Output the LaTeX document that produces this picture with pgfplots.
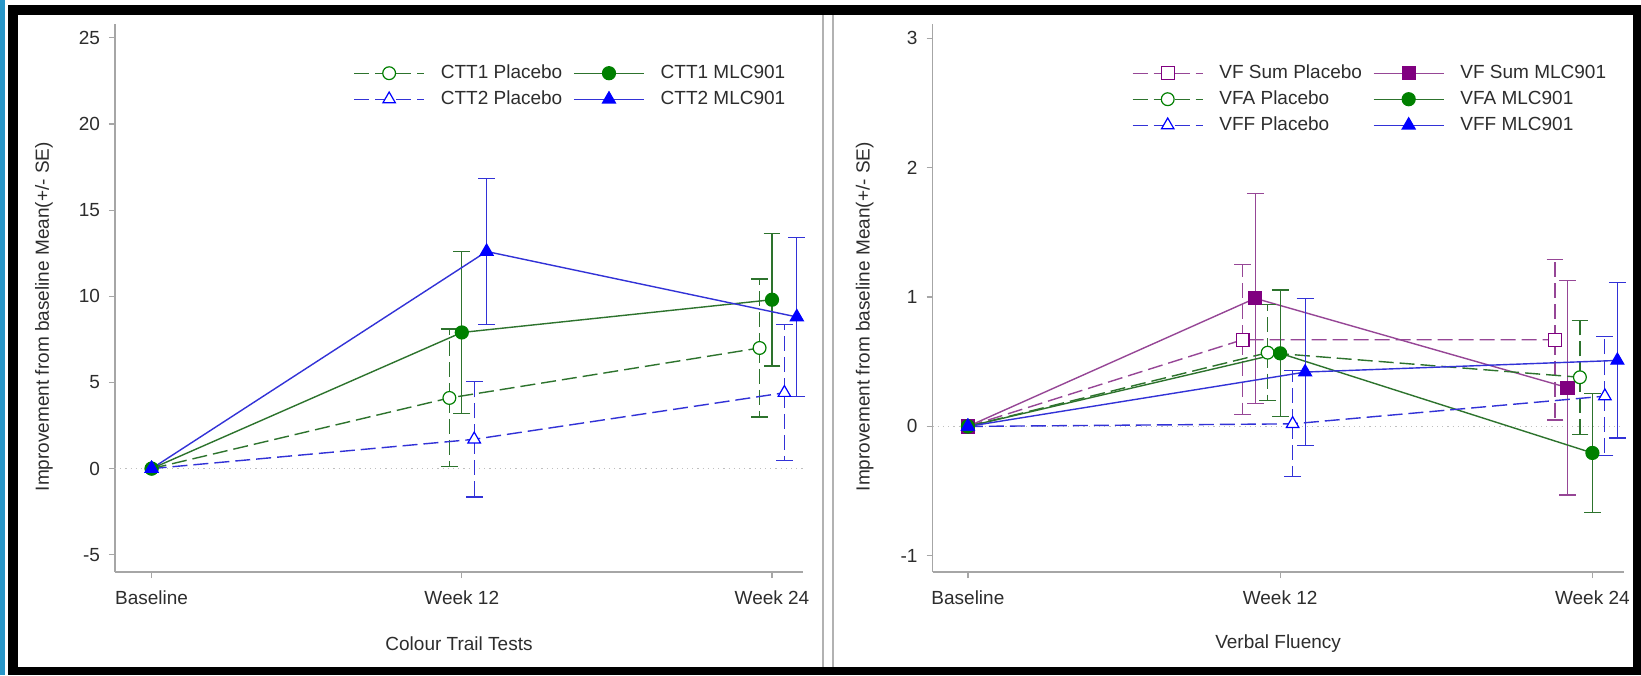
\documentclass[border=0pt]{standalone}
\usepackage{fontspec}
\setmainfont{Liberation Sans}
\usepackage{pgfplots}
\pgfplotsset{compat=1.18}
\definecolor{cgreen}{RGB}{0,128,0}
\definecolor{cgreenl}{RGB}{45,115,45}
\definecolor{cblue}{RGB}{0,0,255}
\definecolor{cbluel}{RGB}{50,50,215}
\definecolor{cpurple}{RGB}{128,0,128}
\definecolor{cpurplel}{RGB}{150,70,150}
\definecolor{frameblue}{RGB}{40,150,200}
\definecolor{txt}{RGB}{45,45,45}

\pgfplotsset{
  panel/.style={
    scale only axis, height=274pt,
    axis lines=left, axis line style={-, draw=gray!70, line width=0.7pt},
    tick align=outside, major tick length=3pt,
    tick style={gray!70, line width=0.6pt},
    xtick={0,1,2}, xticklabels={Baseline,Week 12,Week 24},
    tick label style={font=\fontsize{9.5}{11}\selectfont, text=txt},
    xticklabel style={yshift=-3pt},
    yticklabel style={xshift=-1pt},
    /pgf/number format/assume math mode=true,
    label style={font=\fontsize{9.5}{11}\selectfont, text=txt},
    clip=false,
    legend cell align=left,
    legend columns=2,
    legend image code/.code={\draw[mark repeat=2,mark phase=2,#1] plot coordinates {(0pt,0pt) (17.5pt,0pt) (35pt,0pt)};},
    legend style={draw=none, fill=none, inner sep=0pt, anchor=north west,
      font=\fontsize{9.5}{11}\selectfont, text=txt,
      nodes={inner sep=1pt, text height=7pt, text depth=2pt},
      row sep=2pt,
      /tikz/every odd column/.append style={column sep=7pt},
      /tikz/every even column/.append style={column sep=4.5pt}},
  },
  plac/.style={color=#1, line width=0.7pt, dash pattern=on 7.5pt off 3pt,
    error bars/y dir=both, error bars/y explicit,
    error bars/error bar style={line width=0.6pt, dash pattern=on 7.5pt off 3pt},
    error bars/error mark options={rotate=90, solid, line width=0.6pt, mark size=4.2pt}},
  mlc/.style={color=#1, line width=0.7pt, solid,
    error bars/y dir=both, error bars/y explicit,
    error bars/error bar style={line width=0.6pt, solid},
    error bars/error mark options={rotate=90, solid, line width=0.6pt, mark size=4.2pt}},
}

\begin{document}
\begin{tikzpicture}
% frame and panel divider
\fill[white] (0,0) rectangle (820.5pt,337.5pt);
\fill[frameblue] (0,0) rectangle (2.5pt,337.5pt);
\fill[black] (4pt,0) rectangle (820.5pt,335pt);
\fill[white] (9pt,4pt) rectangle (816.5pt,330pt);
\draw[gray!60, line width=0.6pt] (411.5pt,4pt) -- (411.5pt,330pt);
\draw[gray!60, line width=0.6pt] (416.5pt,4pt) -- (416.5pt,330pt);

% Colour Trail Tests
\begin{axis}[panel, at={(57.5pt,51.5pt)}, anchor=south west, width=344pt,
  xmin=-0.118, xmax=2.10, ymin=-6, ymax=25.8,
  ytick={-5,0,5,10,15,20,25},
  xlabel={Colour Trail Tests},
  xlabel style={at={(axis description cs:0.5,0)}, anchor=center, yshift=-36pt},
  ylabel={Improvement from baseline Mean(+/- SE)},
  ylabel style={at={(axis description cs:-0.1032,0.466)}, anchor=center},
  legend style={at={(axis description cs:0.346,0.931)}},
]
\addplot[forget plot, gray!50, line width=0.6pt, dotted] coordinates {(-0.118,0) (2.10,0)};
\addplot[plac=cgreenl, mark=*, mark size=3.2pt, mark options={solid, draw=cgreen, fill=white, line width=0.6pt}]
  coordinates {(0,0) (0.96,4.1) +- (0,4.0) (1.96,7.0) +- (0,4.0)};
\addlegendentry{CTT1 Placebo}
\addplot[mlc=cgreenl, mark=*, mark size=3.2pt, mark options={solid, draw=cgreen, fill=cgreen}]
  coordinates {(0,0) (1,7.9) +- (0,4.7) (2,9.8) +- (0,3.85)};
\addlegendentry{CTT1 MLC901}
\addplot[plac=cbluel, mark=triangle*, mark size=3.6pt, mark options={solid, draw=cblue, fill=white, line width=0.6pt}]
  coordinates {(0,0) (1.04,1.7) +- (0,3.35) (2.04,4.4) +- (0,3.95)};
\addlegendentry{CTT2 Placebo}
\addplot[mlc=cbluel, mark=triangle*, mark size=3.6pt, mark options={solid, draw=cblue, fill=cblue}]
  coordinates {(0,0) (1.08,12.6) +- (0,4.25) (2.08,8.8) +- (0,4.6)};
\addlegendentry{CTT2 MLC901}
\end{axis}

% Verbal Fluency
\begin{axis}[panel, at={(466.3pt,51.5pt)}, anchor=south west, width=345.5pt,
  xmin=-0.113, xmax=2.10, ymin=-1.125, ymax=3.11,
  ytick={-1,0,1,2,3},
  xlabel={Verbal Fluency},
  xlabel style={at={(axis description cs:0.5,0)}, anchor=center, yshift=-36pt},
  ylabel={Improvement from baseline Mean(+/- SE)},
  ylabel style={at={(axis description cs:-0.0984,0.466)}, anchor=center},
  legend style={at={(axis description cs:0.288,0.931)}},
]
\addplot[forget plot, gray!50, line width=0.6pt, dotted] coordinates {(-0.113,0) (2.10,0)};
\addplot[plac=cpurplel, mark=square*, mark size=3.2pt, mark options={solid, draw=cpurple, fill=white, line width=0.6pt}]
  coordinates {(0,0) (0.88,0.67) +- (0,0.58) (1.88,0.67) +- (0,0.62)};
\addlegendentry{VF Sum Placebo}
\addplot[mlc=cpurplel, mark=square*, mark size=3.2pt, mark options={solid, draw=cpurple, fill=cpurple}]
  coordinates {(0,0) (0.92,0.99) +- (0,0.81) (1.92,0.30) +- (0,0.83)};
\addlegendentry{VF Sum MLC901}
\addplot[plac=cgreenl, mark=*, mark size=3.2pt, mark options={solid, draw=cgreen, fill=white, line width=0.6pt}]
  coordinates {(0,0) (0.96,0.57) +- (0,0.37) (1.96,0.38) +- (0,0.44)};
\addlegendentry{VFA Placebo}
\addplot[mlc=cgreenl, mark=*, mark size=3.2pt, mark options={solid, draw=cgreen, fill=cgreen}]
  coordinates {(0,0) (1,0.565) +- (0,0.49) (2,-0.205) +- (0,0.46)};
\addlegendentry{VFA MLC901}
\addplot[plac=cbluel, mark=triangle*, mark size=3.6pt, mark options={solid, draw=cblue, fill=white, line width=0.6pt}]
  coordinates {(0,0) (1.04,0.02) +- (0,0.41) (2.04,0.234) +- (0,0.46)};
\addlegendentry{VFF Placebo}
\addplot[mlc=cbluel, mark=triangle*, mark size=3.6pt, mark options={solid, draw=cblue, fill=cblue}]
  coordinates {(0,0) (1.08,0.42) +- (0,0.57) (2.08,0.51) +- (0,0.60)};
\addlegendentry{VFF MLC901}
\end{axis}
\end{tikzpicture}
\end{document}
